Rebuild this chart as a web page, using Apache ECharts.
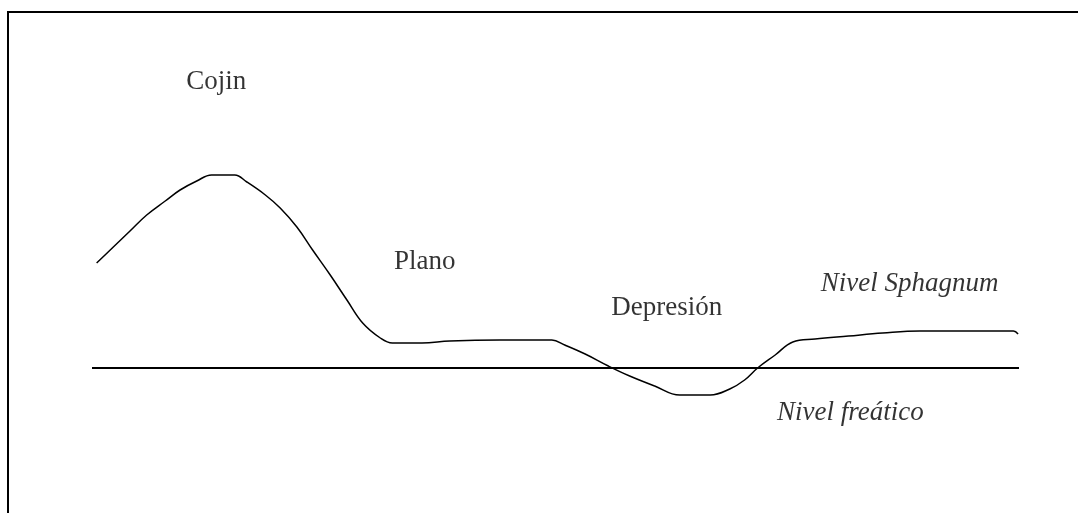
<!DOCTYPE html>
<html>
<head>
<meta charset="utf-8">
<script src="https://cdn.jsdelivr.net/npm/echarts@6/dist/echarts.min.js"></script>
<style>
  html, body { margin: 0; padding: 0; background: #fff; }
  #main { width: 1078px; height: 513px; }
</style>
</head>
<body>
<div id="main"></div>
<script>
// perfil del microrelieve: distancia (0-100) y altura sobre el nivel freático
const distancia = [0.5, 2.3, 4.1, 5.9, 7.9, 9.5, 11.3, 12.9, 15.4, 16.7, 18.7, 20.3, 22.1, 23.8, 25.7,
    27.5, 29.2, 31.1, 32.4, 35.6, 38.6, 44.0, 49.6, 51.0, 53.2, 55.7, 58.0, 60.7, 63.4, 66.7,
    68.8, 70.4, 71.8, 73.7, 75.6, 78.0, 81.6, 85.3, 89.3, 99.4, 99.9];
const alturaSphagnum = [21.0, 24.2, 27.4, 30.6, 33.4, 35.6, 37.4, 38.6, 38.6, 37.2, 34.6, 32.0, 28.2, 23.6, 18.6,
    13.6, 9.0, 6.0, 5.0, 5.0, 5.4, 5.6, 5.6, 4.6, 2.8, 0.4, -1.6, -3.6, -5.4, -5.4,
    -4.2, -2.4, 0.0, 2.6, 5.2, 5.8, 6.4, 7.0, 7.4, 7.4, 6.8];

// nivel freático
const freaticoX = [0, 100];
const freaticoY = [0, 0];

// etiquetas
const etiquetas = ['Cojin', 'Plano', 'Depresión', 'Nivel Sphagnum', 'Nivel freático'];
const etiquetaX = [13.4, 35.9, 62.0, 88.2, 81.8];
const etiquetaY = [57.2, 21.2, 12.0, 16.8, -9.0];
const etiquetaCursiva = [false, false, false, true, true];

const chart = echarts.init(document.getElementById('main'));

const perfil = distancia.map((d, i) => [d, alturaSphagnum[i]]);
const freatico = freaticoX.map((d, i) => [d, freaticoY[i]]);
const textos = etiquetas.map((t, i) => ({
    value: [etiquetaX[i], etiquetaY[i]],
    label: {
        formatter: t,
        fontStyle: etiquetaCursiva[i] ? 'italic' : 'normal'
    }
}));

const option = {
    backgroundColor: '#fff',
    animation: false,
    grid: { left: 92, right: 59, top: 18, bottom: 45 },
    xAxis: { type: 'value', min: 0, max: 100, show: false },
    yAxis: { type: 'value', min: -20, max: 70, show: false },
    graphic: [{
        type: 'polyline',
        shape: { points: [[8, 520], [8, 12], [1090, 12]] },
        style: { stroke: '#000', lineWidth: 2, fill: null }
    }],
    series: [
        {
            type: 'line',
            data: perfil,
            smooth: 0.4,
            showSymbol: false,
            lineStyle: { color: '#000', width: 1.5 }
        },
        {
            type: 'line',
            data: freatico,
            showSymbol: false,
            lineStyle: { color: '#000', width: 2 }
        },
        {
            type: 'scatter',
            data: textos,
            symbolSize: 0,
            label: {
                show: true,
                position: 'inside',
                color: '#000',
                fontFamily: 'Liberation Serif',
                fontSize: 27
            }
        }
    ]
};

chart.setOption(option);
</script>
</body>
</html>
